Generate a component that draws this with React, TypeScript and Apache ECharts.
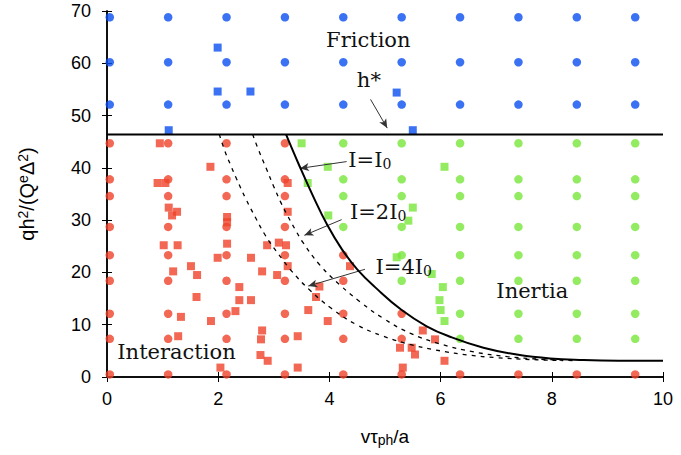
import React, { useEffect, useRef } from "react";
import * as echarts from "echarts";

// ---- data ----
// columns of the regular simulation grid (x = v*tau_ph/a)
const gridX = [0.05, 1.1, 2.15, 3.2, 4.25, 5.3, 6.35, 7.4, 8.45, 9.5];
// rows of the grid above h* (friction regime)
const frictionRows = [52.1, 60.2, 68.8];
// rows of the grid below h*
const lowerRows = [0.5, 7.3, 12.1, 18.4, 23.3, 28.7, 34.6, 37.8, 44.7];
// per column: how many lower rows (counted from the bottom) are in the interaction regime
const interactionRowCount = [9, 9, 9, 9, 5, 3, 1, 1, 1, 1];

const blueSquares = [
  [1.99, 63.0], [1.99, 54.6], [2.58, 54.6], [1.11, 47.2], [5.21, 54.4], [5.5, 47.2],
];

const redSquares = [
  [0.95, 44.7], [1.86, 40.2], [0.91, 37.1], [1.05, 37.1], [3.25, 37.1],
  [1.11, 32.4], [1.26, 31.6], [1.17, 30.9], [3.25, 31.6], [2.16, 30.6], [2.16, 29.6],
  [1.02, 25.2], [1.27, 25.2], [2.16, 25.5], [2.88, 25.2], [3.09, 25.7], [3.22, 25.2],
  [1.99, 22.8], [2.59, 22.8], [1.19, 20.2], [1.51, 21.2], [1.62, 19.5], [2.79, 20.2],
  [3.06, 19.5], [3.25, 21.2], [2.38, 17.2], [1.61, 15.3], [2.38, 14.7], [2.59, 14.7],
  [2.31, 12.6], [1.33, 11.5], [1.87, 10.7], [2.79, 8.9], [2.77, 7.2], [1.28, 7.8],
  [3.43, 7.8], [2.76, 4.2], [2.89, 3.1], [2.04, 1.8], [3.43, 1.8],
  [4.37, 21.2], [3.82, 17.3], [3.76, 15.3], [3.62, 12.8], [3.97, 10.7],
  [5.68, 8.9], [5.9, 7.2], [5.27, 5.6], [5.48, 5.6], [5.54, 4.3], [6.07, 3.1], [5.32, 1.8],
];

const greenSquares = [
  [3.5, 44.7], [3.97, 40.2], [6.07, 40.2], [3.61, 37.1], [5.5, 32.4], [5.42, 29.9],
  [3.98, 30.9], [5.21, 22.9], [5.84, 19.7], [6.04, 17.2], [5.98, 14.7], [6.0, 12.8], [6.07, 10.7],
];

const hStar = 46.4;

// boundary curves
const curveI0 = [
  [3.22, 46.4], [3.46, 40.4], [3.71, 34.5], [3.96, 29.1], [4.22, 24.5], [4.5, 20.6],
  [4.85, 16.9], [5.3, 12.8], [5.75, 9.7], [6.17, 7.7], [6.77, 5.6], [7.37, 4.3],
  [7.97, 3.55], [8.57, 3.25], [9.2, 3.12], [10, 3.1],
];
const curve2I0 = [
  [2.62, 46.4], [2.73, 43.3], [2.86, 40.0], [3.0, 36.4], [3.13, 33.3], [3.26, 30.6],
  [3.38, 28.3], [3.52, 25.8], [3.83, 21.4], [4.19, 17.6], [4.55, 14.4], [4.97, 11.2],
  [5.45, 8.4], [6.0, 6.3], [6.6, 4.8], [7.2, 3.9], [7.8, 3.4], [8.4, 3.15],
];
const curve4I0 = [
  [2.02, 46.4], [2.12, 43.2], [2.22, 40.6], [2.33, 37.9], [2.5, 34.0], [2.67, 30.5],
  [2.83, 27.4], [3.0, 24.7], [3.15, 22.6], [3.3, 20.5], [3.65, 16.6], [4.04, 13.1],
  [4.49, 10.0], [4.97, 7.8], [5.5, 6.1], [6.0, 5.0], [6.5, 4.2], [7.0, 3.7], [7.6, 3.35], [8.2, 3.15],
];

// ---- build circle sets from the grid table ----
const blueCircles: number[][] = [];
gridX.forEach((x) => frictionRows.forEach((y) => blueCircles.push([x, y])));
const redCircles: number[][] = [];
const greenCircles: number[][] = [];
gridX.forEach((x, c) =>
  lowerRows.forEach((y, r) => {
    if (r < interactionRowCount[c]) redCircles.push([x, y]);
    else greenCircles.push([x, y]);
  })
);

const BLUE = "#0a4ff0";
const RED = "#ef4229";
const GREEN = "#78e639";

const SERIF = "DejaVu Serif";
const SANS = "Liberation Sans";

export default function App() {
  const ref = useRef<HTMLDivElement>(null);

  useEffect(() => {
    const chart = echarts.init(ref.current!, null, { renderer: "svg" });

    const tickStyle = { inside: true, length: 5, lineStyle: { color: "#000", width: 1 } };
    const lineStyle = { lineStyle: { color: "#000", width: 1.5 } };

    const circleSeries = (data: number[][], color: string) => ({
      type: "scatter",
      data,
      symbol: "circle",
      symbolSize: 8.5,
      itemStyle: { color },
      z: 3,
    });
    const squareSeries = (data: number[][], color: string) => ({
      type: "scatter",
      data,
      symbol: "rect",
      symbolSize: 8,
      itemStyle: { color },
      z: 3,
    });

    const arrows = [
      { from: [4.74, 53.1], to: [5.04, 47.6] },
      { from: [4.31, 41.2], to: [3.47, 39.9] },
      { from: [4.22, 30.1], to: [3.55, 27.1] },
      { from: [4.64, 20.6], to: [3.62, 17.4] },
    ];

    const curveLine = (name: string, data: number[][], solid: boolean) => ({
      type: "line",
      name,
      data,
      smooth: 0.45,
      showSymbol: false,
      lineStyle: solid
        ? { color: "#000", width: 2 }
        : { color: "#000", width: 1.3, type: [4, 5] },
      z: solid ? 5 : 4,
    });

    chart.setOption({
      animation: false,
      backgroundColor: "#fff",
      grid: { left: 107, right: 18, top: 11, bottom: 78, containLabel: false },
      xAxis: [
        {
          type: "value",
          min: 0,
          max: 10,
          interval: 2,
          position: "bottom",
          axisLine: lineStyle,
          axisTick: tickStyle,
          splitLine: { show: false },
          axisLabel: { color: "#000", fontSize: 18, fontFamily: SANS, margin: 13 },
          name: "{a|vτ}{s|ph}{a|/a}",
          nameLocation: "middle",
          nameGap: 49,
          nameTextStyle: {
            rich: {
              a: { fontSize: 19, fontFamily: SANS, color: "#000" },
              s: { fontSize: 14, fontFamily: SANS, color: "#000", verticalAlign: "bottom", padding: [7, 0, 0, 0] },
            },
          },
        },
        {
          type: "value",
          min: 0,
          max: 10,
          interval: 2,
          position: "top",
          axisLine: lineStyle,
          axisTick: tickStyle,
          splitLine: { show: false },
          axisLabel: { show: false },
        },
      ],
      yAxis: [
        {
          type: "value",
          min: 0,
          max: 70,
          interval: 10,
          position: "left",
          axisLine: lineStyle,
          axisTick: tickStyle,
          splitLine: { show: false },
          axisLabel: { color: "#000", fontSize: 18, fontFamily: SANS, margin: 16 },
          name: "{a|qh}{s|2}{a|/(Q}{s|e}{a|Δ}{s|2}{a|)}",
          nameLocation: "middle",
          nameRotate: 90,
          nameGap: 70,
          nameTextStyle: {
            rich: {
              a: { fontSize: 20, fontFamily: SANS, color: "#000" },
              s: { fontSize: 14, fontFamily: SANS, color: "#000", verticalAlign: "top", padding: [0, 0, 7, 0] },
            },
          },
        },
        {
          type: "value",
          min: 0,
          max: 70,
          interval: 10,
          position: "right",
          axisLine: lineStyle,
          axisTick: tickStyle,
          splitLine: { show: false },
          axisLabel: { show: false },
        },
      ],
      series: [
        circleSeries(blueCircles, BLUE),
        squareSeries(blueSquares, BLUE),
        circleSeries(redCircles, RED),
        squareSeries(redSquares, RED),
        circleSeries(greenCircles, GREEN),
        squareSeries(greenSquares, GREEN),
        curveLine("I=4I0", curve4I0, false),
        curveLine("I=2I0", curve2I0, false),
        curveLine("I=I0", curveI0, true),
        {
          type: "line",
          name: "h*",
          data: [[0, hStar], [10, hStar]],
          showSymbol: false,
          lineStyle: { color: "#000", width: 2 },
          z: 5,
          markLine: {
            silent: true,
            symbol: ["none", "arrow"],
            symbolSize: [6, 9],
            label: { show: false },
            lineStyle: { color: "#333", width: 1, type: "solid" },
            data: arrows.map((a) => [{ coord: a.from }, { coord: a.to }]),
          },
        },
      ],
    });

    const texts = [
      { text: "Friction", at: [4.7, 64.5], align: "center" },
      { text: "h*", at: [4.71, 56.8], align: "center" },
      { text: "{m|I=I}{s|0}", at: [4.34, 41.5], align: "left" },
      { text: "{m|I=2I}{s|0}", at: [4.37, 31.6], align: "left" },
      { text: "{m|I=4I}{s|0}", at: [4.83, 21.0], align: "left" },
      { text: "Inertia", at: [7.65, 16.4], align: "center" },
      { text: "Interaction", at: [1.25, 4.7], align: "center" },
    ];

    chart.setOption({
      graphic: texts.map((t) => {
        const p = chart.convertToPixel({ gridIndex: 0 }, t.at) as number[];
        return {
          type: "text",
          x: p[0],
          y: p[1],
          z: 10,
          style: {
            text: t.text,
            fill: "#111",
            font: `21px '${SERIF}'`,
            align: t.align,
            verticalAlign: "middle",
            rich: {
              m: { fontSize: 21, fontFamily: SERIF, fill: "#111" },
              s: { fontSize: 14, fontFamily: SERIF, fill: "#111", verticalAlign: "bottom", padding: [8, 0, 0, 0] },
            },
          },
        };
      }),
    });

    return () => chart.dispose();
  }, []);

  return (
    <div
      ref={ref}
      style={{ position: "absolute", left: 0, top: 0, width: 681, height: 455 }}
    />
  );
}
